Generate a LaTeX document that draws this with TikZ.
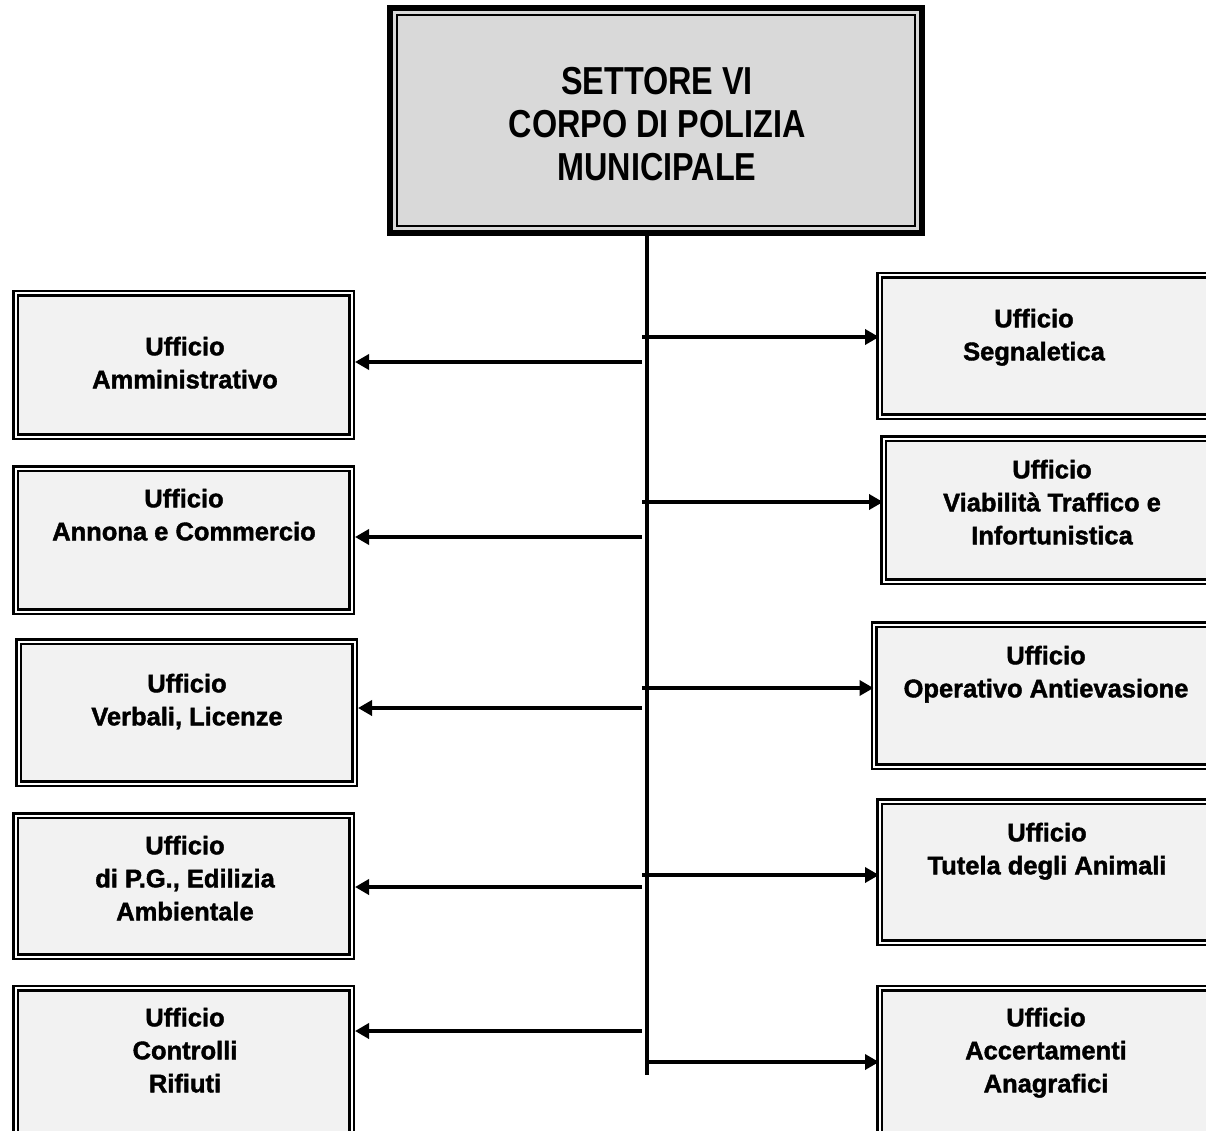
\documentclass[tikz,border=0pt]{standalone}
\usepackage{fontspec}
\setmainfont{Liberation Sans}[BoldFeatures={FakeBold=1.6}]
\newfontfamily\headfont{Liberation Sans Bold}[FakeStretch=0.83]
\usetikzlibrary{arrows.meta}
\definecolor{boxgray}{HTML}{F2F2F2}
\definecolor{topgray}{HTML}{D9D9D9}
\newcommand\firstln{\rule{0pt}{0.8em}}
\begin{document}
\begin{tikzpicture}[x=1pt,y=-1pt,
  ubox/.style={draw=black, line width=2.5pt, double=white, double distance=2pt,
    fill=boxgray, inner sep=0pt, outer sep=3.5pt, minimum width=336pt},
  topbox/.style={draw=black, line width=6pt, fill=topgray, inner sep=0pt, outer sep=3pt,
    minimum width=532pt, minimum height=225pt},
  utext/.style={anchor=north, inner sep=0pt, align=center,
    font=\fontsize{25.5}{33}\selectfont\bfseries},
  htext/.style={anchor=north, inner sep=0pt, align=center,
    font=\fontsize{39}{43}\selectfont\headfont},
  trunk/.style={line width=4pt},
  arr/.style={line width=4pt, -{Triangle[length=14pt,width=15pt]}}
]
\useasboundingbox (0,0) rectangle (1206,1131);
\clip (0,0) rectangle (1206,1131);

% top box
\node[topbox] (top) at (656,120.5) {};
\draw[line width=2pt] ([shift={(10,10)}]top.north west) rectangle ([shift={(-10,-10)}]top.south east);
\node[htext] (ht) at (657,62.8) {\firstln SETTORE VI\\CORPO DI POLIZIA\\MUNICIPALE};

% left boxes
\node[ubox, minimum height=143pt] (l1) at (183.5,365) {};
\node[ubox, minimum height=143pt] (l2) at (183.5,540) {};
\node[ubox, minimum height=142pt] (l3) at (186.5,712.5) {};
\node[ubox, minimum height=141pt] (l4) at (183.5,886) {};
\node[ubox, minimum height=146pt] (l5) at (183.5,1061) {};

% right boxes
\node[ubox, minimum width=333pt, minimum height=141pt] (r1) at (1046,346) {};
\node[ubox, minimum width=333pt, minimum height=143pt] (r2) at (1050,510) {};
\node[ubox, minimum width=340pt, minimum height=142pt] (r3) at (1044,695.5) {};
\node[ubox, minimum width=333pt, minimum height=141pt] (r4) at (1046,872) {};
\node[ubox, minimum width=333pt, minimum height=146pt] (r5) at (1046,1061) {};

% texts
\node[utext] (tl1) at (185,334.7) {\firstln Ufficio\\Amministrativo};
\node[utext] (tl2) at (184,486.7) {\firstln Ufficio\\Annona e Commercio};
\node[utext] (tl3) at (187,671.7) {\firstln Ufficio\\Verbali, Licenze};
\node[utext] (tl4) at (185,833.7) {\firstln Ufficio\\di P.G., Edilizia\\Ambientale};
\node[utext] (tl5) at (185,1005.7) {\firstln Ufficio\\Controlli\\Rifiuti};
\node[utext] (tr1) at (1034,306.7) {\firstln Ufficio\\Segnaletica};
\node[utext] (tr2) at (1052,457.7) {\firstln Ufficio\\Viabilità Traffico e\\Infortunistica};
\node[utext] (tr3) at (1046,643.7) {\firstln Ufficio\\Operativo Antievasione};
\node[utext] (tr4) at (1047,820.7) {\firstln Ufficio\\Tutela degli Animali};
\node[utext] (tr5) at (1046,1005.7) {\firstln Ufficio\\Accertamenti\\Anagrafici};

% trunk
\coordinate (t0) at (647,236);
\coordinate (t1) at (647,1075);
\draw[trunk] (t0) -- (t1);

% left arrows
\coordinate (sl1) at (642,362);
\coordinate (sl2) at (642,537);
\coordinate (sl3) at (642,708);
\coordinate (sl4) at (642,887);
\coordinate (sl5) at (642,1031);
\foreach \i in {1,...,5} \draw[arr] (sl\i) -- (sl\i -| l\i.east);

% right arrows
\coordinate (sr1) at (642,337);
\coordinate (sr2) at (642,502);
\coordinate (sr3) at (642,688);
\coordinate (sr4) at (642,875);
\coordinate (sr5) at (647,1062);
\foreach \i in {1,...,5} \draw[arr, shorten >=-3pt] (sr\i) -- (sr\i -| r\i.west);
\end{tikzpicture}
\end{document}
